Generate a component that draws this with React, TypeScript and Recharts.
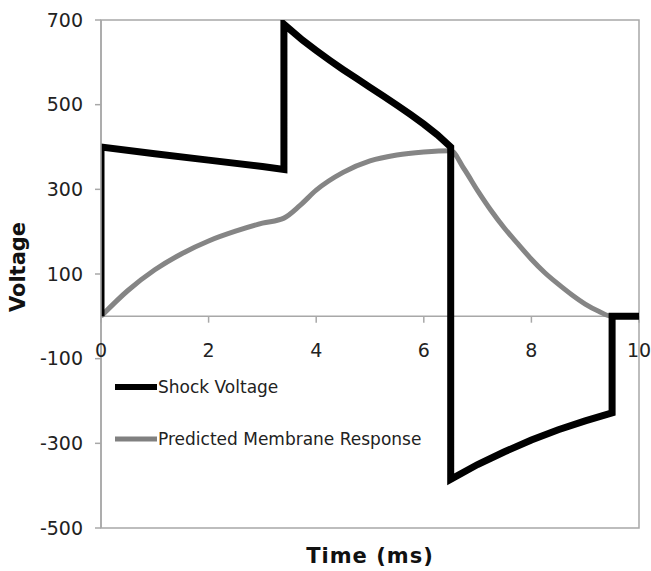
import React from 'react';
import {
  LineChart,
  Line,
  XAxis,
  YAxis,
  ReferenceLine,
  ReferenceArea,
  ReferenceDot,
  Legend,
} from 'recharts';

// Shock voltage waveform (time in ms, voltage)
const shockTime = [0, 0, 1, 2, 3, 3.4, 3.4, 3.75, 4, 4.25, 4.5, 4.75, 5, 5.25, 5.5, 5.75, 6, 6.25, 6.5, 6.5, 7, 7.5, 8, 8.5, 9, 9.5, 9.5, 10];
const shockVolt = [0, 400, 384, 369, 354, 347, 690, 652, 628, 605, 583, 562, 541, 520, 499, 477, 454, 429, 400, -385, -350, -320, -292, -268, -247, -228, 0, 0];

// Predicted membrane response
const membraneTime = [0, 0.5, 1, 1.5, 2, 2.5, 3, 3.4, 3.7, 4, 4.5, 5, 5.5, 6, 6.5, 6.75, 7, 7.25, 7.5, 7.75, 8, 8.25, 8.5, 8.75, 9, 9.25, 9.5, 10];
const membraneVolt = [0, 61, 110, 148, 178, 201, 220, 232, 262, 298, 340, 367, 381, 388, 391, 348, 297, 250, 208, 171, 135, 103, 76, 51, 29, 12, 0, 0];

const xTicks = [0, 2, 4, 6, 8, 10];
const yTicks = [-500, -300, -100, 100, 300, 500, 700];

const seriesNames = ['Shock Voltage', 'Predicted Membrane Response'];

const shockData = shockTime.map((t, i) => ({ t, v: shockVolt[i] }));
const membraneData = membraneTime.map((t, i) => ({ t, v: membraneVolt[i] }));

const FONT = '"DejaVu Sans", Verdana, sans-serif';
const FRAME = '#a8a8a8';
const TEXT = '#222';

const renderLegend = () => (
  <div style={{ fontFamily: FONT, fontSize: 17, color: TEXT }}>
    <div style={{ display: 'flex', alignItems: 'center', height: 20 }}>
      <svg width={42} height={10}>
        <line x1={0} y1={5} x2={42} y2={5} stroke="#000" strokeWidth={6} />
      </svg>
      <span style={{ marginLeft: 1 }}>{seriesNames[0]}</span>
    </div>
    <div style={{ display: 'flex', alignItems: 'center', height: 20, marginTop: 32 }}>
      <svg width={42} height={10}>
        <line x1={0} y1={5} x2={42} y2={5} stroke="#808080" strokeWidth={5} />
      </svg>
      <span style={{ marginLeft: 1 }}>{seriesNames[1]}</span>
    </div>
  </div>
);

export default function App() {
  return (
    <div style={{ position: 'absolute', left: 0, top: 0 }}>
      <LineChart
        width={651}
        height={571}
        margin={{ top: 20, right: 12, bottom: 0, left: 0 }}
        style={{ fontFamily: FONT }}
      >
        <XAxis
          dataKey="t"
          type="number"
          domain={[0, 10]}
          ticks={xTicks}
          allowDataOverflow
          height={43}
          tick={false}
          axisLine={false}
          tickLine={false}
          label={{
            content: (props: any) => {
              const vb = props.viewBox || {};
              return (
                <text
                  x={vb.x + vb.width / 2}
                  y={vb.y + 35}
                  textAnchor="middle"
                  fontFamily={FONT}
                  fontWeight="bold"
                  fontSize={21}
                  letterSpacing={1}
                  fill="#111"
                >
                  Time (ms)
                </text>
              );
            },
          }}
        />
        <YAxis
          type="number"
          domain={[-500, 700]}
          ticks={yTicks}
          allowDataOverflow
          width={101}
          axisLine={{ stroke: FRAME, strokeWidth: 1.5 }}
          tickLine={{ stroke: FRAME, strokeWidth: 1.5 }}
          tickSize={6}
          tickMargin={12}
          tick={{ fill: TEXT, fontSize: 19, fontFamily: FONT }}
          label={{
            content: (props: any) => {
              const vb = props.viewBox || {};
              const cx = vb.x + 18;
              const cy = vb.y + vb.height / 2 - 7;
              return (
                <text
                  x={cx}
                  y={cy}
                  transform={`rotate(-90, ${cx}, ${cy})`}
                  textAnchor="middle"
                  dominantBaseline="central"
                  fontFamily={FONT}
                  fontWeight="bold"
                  fontSize={21}
                  fill="#111"
                >
                  Voltage
                </text>
              );
            },
          }}
        />
        <ReferenceArea
          x1={0}
          x2={10}
          y1={-500}
          y2={700}
          fill="none"
          fillOpacity={0}
          stroke={FRAME}
          strokeWidth={1.5}
          ifOverflow="visible"
        />
        <ReferenceLine y={0} stroke={FRAME} strokeWidth={1.5} />
        {xTicks.map((t) => (
          <ReferenceLine
            key={`tk-${t}`}
            segment={[
              { x: t, y: 0 },
              { x: t, y: -15 },
            ]}
            stroke={FRAME}
            strokeWidth={1.5}
            ifOverflow="visible"
          />
        ))}
        {xTicks.map((t) => (
          <ReferenceDot
            key={`tl-${t}`}
            x={t}
            y={0}
            r={0}
            fill="none"
            stroke="none"
            ifOverflow="visible"
            label={{
              value: String(t),
              position: 'bottom',
              offset: 27,
              fill: TEXT,
              fontSize: 19,
              fontFamily: FONT,
            }}
          />
        ))}
        <Line
          data={membraneData}
          dataKey="v"
          name={seriesNames[1]}
          type="monotone"
          stroke="#858585"
          strokeWidth={5}
          dot={false}
          activeDot={false}
          isAnimationActive={false}
          strokeLinejoin="round"
        />
        <Line
          data={shockData}
          dataKey="v"
          name={seriesNames[0]}
          type="linear"
          stroke="#000"
          strokeWidth={7}
          dot={false}
          activeDot={false}
          isAnimationActive={false}
          strokeLinejoin="miter"
        />
        <Legend
          layout="vertical"
          align="center"
          verticalAlign="middle"
          content={renderLegend}
          wrapperStyle={{ left: 115, top: 377, width: 'auto' }}
        />
      </LineChart>
    </div>
  );
}
